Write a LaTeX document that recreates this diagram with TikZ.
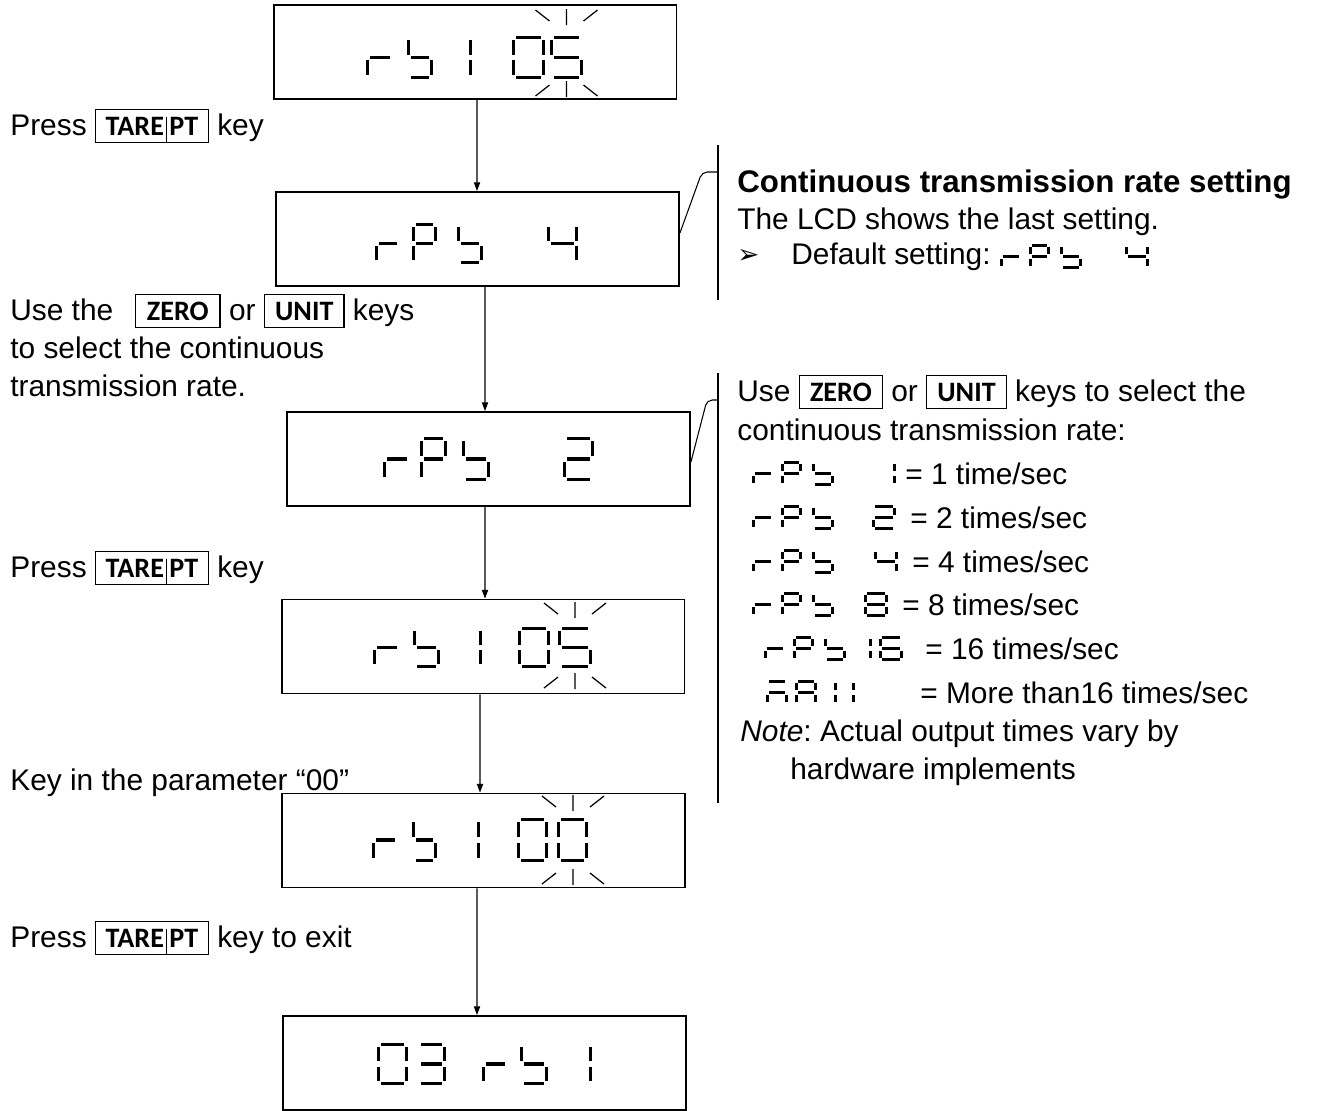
\documentclass[tikz,border=0pt]{standalone}
\usepackage{fontspec}
\setmainfont{Liberation Sans}
\newfontfamily\keyfont{Carlito}
\newfontfamily\symfont{DejaVu Sans}
\usetikzlibrary{arrows.meta}
\frenchspacing

% seven-segment pieces, drawn in a scope shifted to the glyph's top left corner
\def\lcdt{3.3}\def\lcdg{1}
\def\lcdsega{\fill (\lcdt+\lcdg,0) rectangle (\lcdw-\lcdt-\lcdg,\lcdt);}
\def\lcdsegb{\fill (\lcdw-\lcdt,\lcdt+\lcdg) rectangle (\lcdw,\lcdh/2-\lcdt/2-\lcdg);}
\def\lcdsegc{\fill (\lcdw-\lcdt,\lcdh/2+\lcdt/2+\lcdg) rectangle (\lcdw,\lcdh-\lcdt-\lcdg);}
\def\lcdsegd{\fill (\lcdt+\lcdg,\lcdh-\lcdt) rectangle (\lcdw-\lcdt-\lcdg,\lcdh);}
\def\lcdsege{\fill (0,\lcdh/2+\lcdt/2+\lcdg) rectangle (\lcdt,\lcdh-\lcdt-\lcdg);}
\def\lcdsegf{\fill (0,\lcdt+\lcdg) rectangle (\lcdt,\lcdh/2-\lcdt/2-\lcdg);}
\def\lcdsegg{\fill (\lcdt+\lcdg,\lcdh/2-\lcdt/2) rectangle (\lcdw-\lcdt-\lcdg,\lcdh/2+\lcdt/2);}
\newcommand\lcdchar[5]{%
  \begin{scope}[shift={(#1,#2)}]
    \pgfmathsetmacro\lcdw{#3}\pgfmathsetmacro\lcdh{#4}%
    \foreach \s in {#5}{\csname lcdseg\s\endcsname}%
  \end{scope}}
\newcommand\lcdrpb[2]{%
  \lcdchar{#1}{#2}{22}{25}{e,g}%
  \lcdchar{#1+29}{#2}{21}{25}{a,b,e,f,g}%
  \lcdchar{#1+60}{#2}{22}{25}{f,g,c,d}}
\newcommand\lcdblink[3]{%
  \draw[blink] (#1-31,#2+1) -- (#1-17,#2+12) (#1,#2) -- (#1,#2+16) (#1+17,#2+12) -- (#1+31,#2+1)
    (#1-31,#3-1) -- (#1-17,#3-12) (#1,#3-16) -- (#1,#3) (#1+17,#3-12) -- (#1+31,#3-1);}

\newcommand\keybar{\kern1.3pt\raisebox{-3.7pt}[0pt][0pt]{\rule{0.5pt}{14pt}}\kern1.3pt}
\newcommand\keycap[2][0pt]{{\setlength\fboxsep{3.7pt}\setlength\fboxrule{0.7pt}%
  \fbox{\kern#1\keyfont\bfseries\fontsize{16}{16}\selectfont#2\kern#1}}}

\tikzset{
  lcdbox/.style={draw, line width=1.1pt, minimum width=8.06cm, minimum height=1.88cm, inner sep=0pt},
  flow/.style={line width=0.6pt, -{Triangle[length=5pt,width=3.6pt]}},
  callout/.style={line width=0.6pt},
  blink/.style={line width=0.7pt},
  txt/.style={anchor=base west, inner sep=0pt, font=\fontsize{17}{21}\selectfont},
}

\begin{document}
\begin{tikzpicture}[x=0.02cm, y=-0.02cm]
\useasboundingbox (0,0) rectangle (1317,1110);
\clip (0,0) rectangle (1317,1110);

% displays
\node[lcdbox] (lcdA) at (475,52) {};
\node[lcdbox] (lcdB) at (477.5,239) {};
\node[lcdbox] (lcdC) at (488.5,459) {};
\node[lcdbox] (lcdD) at (483,646.5) {};
\node[lcdbox] (lcdE) at (483.5,840.5) {};
\node[lcdbox] (lcdF) at (484.5,1063) {};

\draw[flow] ([xshift=0.04cm]lcdA.south) -- ([xshift=-0.01cm]lcdB.north);
\draw[flow] ([xshift=0.15cm]lcdB.south) -- ([xshift=-0.07cm]lcdC.north);
\draw[flow] ([xshift=-0.07cm]lcdC.south) -- ([xshift=0.04cm]lcdD.north);
\draw[flow] ([xshift=-0.06cm]lcdD.south) -- ([xshift=-0.07cm]lcdE.north);
\draw[flow] ([xshift=-0.13cm]lcdE.south) -- ([xshift=-0.15cm]lcdF.north);

% display contents
\lcdchar{366}{36}{28}{43}{e,g}
\lcdchar{407}{36}{26}{43}{f,g,c,d}
\lcdchar{469}{36}{3.3}{43}{b,c}
\lcdchar{512}{36}{33}{43}{a,b,c,d,e,f}
\lcdchar{550}{36}{33}{43}{a,f,g,c,d}
\lcdblink{566.5}{9}{97}

\lcdchar{375}{223}{26}{41}{e,g}
\lcdchar{412}{223}{25}{41}{a,b,e,f,g}
\lcdchar{457}{223}{26}{41}{f,g,c,d}
\lcdchar{547}{223}{31}{41}{f,g,b,c}

\lcdchar{383}{437}{28}{44}{e,g}
\lcdchar{420}{437}{27}{44}{a,b,e,f,g}
\lcdchar{462}{437}{28}{44}{f,g,c,d}
\lcdchar{563}{437}{31}{44}{a,b,g,e,d}

\lcdchar{373}{627}{28}{41}{e,g}
\lcdchar{413}{627}{27}{41}{f,g,c,d}
\lcdchar{479}{627}{3.3}{41}{b,c}
\lcdchar{518}{627}{32}{41}{a,b,c,d,e,f}
\lcdchar{558}{627}{34}{41}{a,f,g,c,d}
\lcdblink{575}{602}{689}

\lcdchar{372}{818}{27}{44}{e,g}
\lcdchar{412}{818}{25}{44}{f,g,c,d}
\lcdchar{477}{818}{3.3}{44}{b,c}
\lcdchar{517}{818}{31}{44}{a,b,c,d,e,f}
\lcdchar{557}{818}{31}{44}{a,b,c,d,e,f}
\lcdblink{573}{795}{885}

\lcdchar{377}{1043}{31}{42}{a,b,c,d,e,f}
\lcdchar{417}{1043}{29}{42}{a,b,g,c,d}
\lcdchar{482}{1043}{27}{42}{e,g}
\lcdchar{520}{1043}{28}{42}{f,g,c,d}
\lcdchar{589}{1043}{3.3}{42}{b,c}

% left hints
\node[txt] (pressA) at (10,135) {Press \keycap[1.7pt]{TARE\keybar PT} key};
\node[txt] (useKeysA) at (10,320) {Use the\hspace{7.5pt} \keycap[2.5pt]{ZERO} or \keycap[2pt]{UNIT} keys};
\node[txt] (useKeysB) at (10,358) {to select the continuous};
\node[txt] (useKeysC) at (10,396) {transmission rate.};
\node[txt] (pressB) at (10,577) {Press \keycap[1.7pt]{TARE\keybar PT} key};
\node[txt] (keyIn) at (10,790) {Key in the parameter “00”};
\node[txt] (pressC) at (10,947) {Press \keycap[1.7pt]{TARE\keybar PT} key to exit};

% right notes
\draw[callout, rounded corners=3pt] ([yshift=0.12cm]lcdB.east) -- (702,172) -- (718,172);
\draw[callout] (718,145) -- (718,300);
\draw[callout, rounded corners=3pt] ([yshift=-0.06cm]lcdC.east) -- (707,400) -- (718,400);
\draw[callout] (718,373) -- (718,803);

\node[txt] (rateHead) at (737,192) {\fontsize{17.8}{21}\selectfont\bfseries Continuous transmission rate setting};
\node[txt] (rateLast) at (737,229) {The LCD shows the last setting.};
\node[txt] (bullet) at (737,263) {\symfont\fontsize{15}{15}\selectfont ➢};
\node[txt] (rateDef) at (791,264) {Default setting:};

\node[txt] (selHintA) at (737,401) {Use \keycap[2pt]{ZERO} or \keycap[2pt]{UNIT} keys to select the};
\node[txt] (selHintB) at (737,440) {continuous transmission rate:};
\node[txt] (rateOne) at (905,484) {= 1 time/sec};
\node[txt] (rateTwo) at (910,528) {= 2 times/sec};
\node[txt] (rateFour) at (912,572) {= 4 times/sec};
\node[txt] (rateEight) at (902,615) {= 8 times/sec};
\node[txt] (rateSixteen) at (925,659) {= 16 times/sec};
\node[txt] (rateMore) at (920,703) {= More than16 times/sec};
\node[txt] (noteA) at (740,741) {\textit{Note}: Actual output times vary by};
\node[txt] (noteB) at (790,779) {hardware implements};

\begin{scope}
\def\lcdt{2.6}\def\lcdg{0.8}
\lcdrpb{1000}{244}
\lcdchar{1125}{244}{24}{25}{f,g,b,c}

\lcdrpb{752}{461}
\lcdchar{893}{461}{2.6}{25}{b,c}
\lcdrpb{752}{505}
\lcdchar{872}{505}{24}{25}{a,b,g,e,d}
\lcdrpb{752}{549}
\lcdchar{874}{549}{24}{25}{f,g,b,c}
\lcdrpb{752}{592}
\lcdchar{864}{592}{24}{25}{a,b,c,d,e,f,g}
\lcdrpb{764}{636}
\lcdchar{869}{636}{2.6}{25}{b,c}
\lcdchar{879}{636}{24}{25}{a,f,g,e,d,c}
\lcdchar{766}{680}{22}{25}{a,g,e,c}
\lcdchar{795}{680}{22}{25}{a,b,c,e,f,g}
\lcdchar{834}{680}{2.6}{25}{b,c}
\lcdchar{852}{680}{2.6}{25}{b,c}
\end{scope}
\end{tikzpicture}
\end{document}
